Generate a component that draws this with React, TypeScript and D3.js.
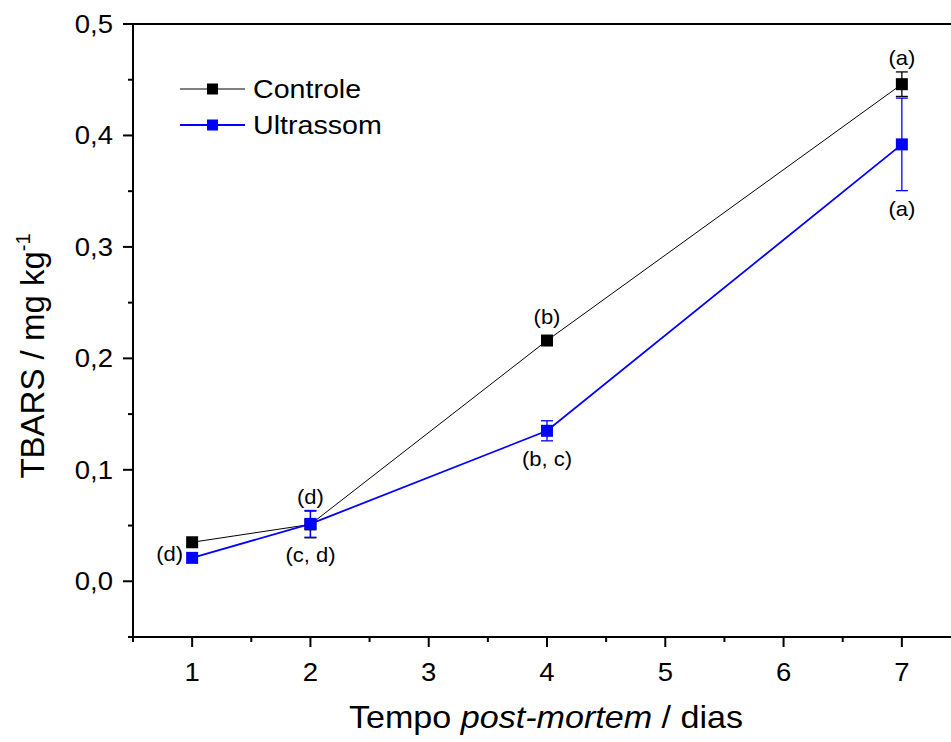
import React from "react";
import * as d3 from "d3";

// data
const days = [1, 2, 4, 7];
const controle = [0.035, 0.051, 0.216, 0.446];
const controleErr = [0, 0.012, 0, 0.011];
const ultrassom = [0.021, 0.0515, 0.135, 0.392];
const ultrassomErr = [0, 0.012, 0.009, 0.0415];
const controleLetters = ["", "(d)", "(b)", "(a)"];
const ultrassomLetters = ["(d)", "(c, d)", "(b, c)", "(a)"];
const xTicks = [1, 2, 3, 4, 5, 6, 7];
const xMinor = [0.5, 1.5, 2.5, 3.5, 4.5, 5.5, 6.5, 7.5];
const yTicks = [0, 0.1, 0.2, 0.3, 0.4, 0.5];
const yMinor = [-0.05, 0.05, 0.15, 0.25, 0.35, 0.45];

const W = 951;
const H = 742;
const FONT = "'Liberation Sans', Arial, sans-serif";
const SX = 1.1; // text looks a bit wide in the source

const fmt = (v: number) => d3.format(".1f")(v).replace(".", ",");

const Txt = ({ x, y, size, anchor = "middle", children, fill = "#000" }: any) => (
  <g transform={`translate(${x},${y}) scale(${SX},1)`}>
    <text fontSize={size} textAnchor={anchor} fill={fill} fontFamily={FONT}>
      {children}
    </text>
  </g>
);

export default function App() {
  const x = d3.scaleLinear().domain([0.5, 7.5]).range([133, 961]);
  const y = d3.scaleLinear().domain([-0.05, 0.5]).range([637, 24]);
  const line = d3
    .line<number>()
    .x((_, i) => x(days[i]))
    .y((d) => y(d));

  const series = [
    { name: "Controle", vals: controle, err: controleErr, color: "#000", lw: 1 },
    { name: "Ultrassom", vals: ultrassom, err: ultrassomErr, color: "#0000ff", lw: 1.8 },
  ];
  const ms = 12;

  return (
    <svg width={W} height={H} style={{ position: "absolute", left: 0, top: 0, background: "#fff" }}>
      {/* lines */}
      {series.map((s) => (
        <path key={s.name} d={line(s.vals) || ""} fill="none" stroke={s.color} strokeWidth={s.lw} />
      ))}
      {/* error bars */}
      {series.map((s) =>
        s.vals.map((v, i) =>
          s.err[i] > 0 ? (
            <g key={s.name + i} stroke={s.color} strokeWidth={1.3}>
              <line x1={x(days[i])} x2={x(days[i])} y1={y(v - s.err[i])} y2={y(v + s.err[i])} />
              <line x1={x(days[i]) - 6} x2={x(days[i]) + 6} y1={y(v - s.err[i])} y2={y(v - s.err[i])} />
              <line x1={x(days[i]) - 6} x2={x(days[i]) + 6} y1={y(v + s.err[i])} y2={y(v + s.err[i])} />
            </g>
          ) : null
        )
      )}
      {/* markers */}
      {series.map((s) =>
        s.vals.map((v, i) => (
          <rect
            key={s.name + "m" + i}
            x={x(days[i]) - ms / 2}
            y={y(v) - ms / 2}
            width={ms}
            height={ms}
            fill={s.color}
          />
        ))
      )}
      {/* letters */}
      {controleLetters.map((t, i) =>
        t ? (
          <Txt key={"cl" + i} x={x(days[i])} y={Math.min(y(controle[i]) - 17, y(controle[i] + controleErr[i]) - 7)} size={20}>
            {t}
          </Txt>
        ) : null
      )}
      {ultrassomLetters.map((t, i) =>
        i === 0 ? (
          <Txt key={"ul" + i} x={x(days[i]) - 9} y={y(ultrassom[i]) + 3} size={20} anchor="end">
            {t}
          </Txt>
        ) : (
          <Txt key={"ul" + i} x={x(days[i])} y={y(ultrassom[i] - ultrassomErr[i]) + 25} size={20}>
            {t}
          </Txt>
        )
      )}

      {/* axes */}
      <g stroke="#000" strokeWidth={2}>
        <line x1={x(0.5)} x2={W} y1={y(0.5)} y2={y(0.5)} />
        <line x1={x(0.5)} x2={x(0.5)} y1={y(-0.05) + 1} y2={y(0.5) - 1} />
        <line x1={x(0.5) - 1} x2={W} y1={y(-0.05)} y2={y(-0.05)} />
        {xTicks.map((t) => (
          <line key={"xt" + t} x1={x(t)} x2={x(t)} y1={y(-0.05)} y2={y(-0.05) + 10} />
        ))}
        {xMinor.map((t) => (
          <line key={"xm" + t} x1={x(t)} x2={x(t)} y1={y(-0.05)} y2={y(-0.05) + 5} />
        ))}
        {yTicks.map((t) => (
          <line key={"yt" + t} x1={x(0.5) - 10} x2={x(0.5)} y1={y(t)} y2={y(t)} />
        ))}
        {yMinor.map((t) => (
          <line key={"ym" + t} x1={x(0.5) - 5} x2={x(0.5)} y1={y(t)} y2={y(t)} />
        ))}
      </g>
      {xTicks.map((t) => (
        <Txt key={"xl" + t} x={x(t)} y={y(-0.05) + 44} size={25}>
          {String(t)}
        </Txt>
      ))}
      {yTicks.map((t) => (
        <Txt key={"yl" + t} x={x(0.5) - 20} y={y(t) + 9} size={25} anchor="end">
          {fmt(t)}
        </Txt>
      ))}

      {/* axis titles */}
      <Txt x={546} y={728} size={31}>
        Tempo <tspan fontStyle="italic">post-mortem</tspan> / dias
      </Txt>
      <g transform={`translate(44,356) rotate(-90)`}>
        <text fontSize={33} textAnchor="middle" fontFamily={FONT}>
          TBARS / mg kg
          <tspan fontSize={20} dy={-14}>-1</tspan>
        </text>
      </g>

      {/* legend */}
      {series.map((s, i) => (
        <g key={"lg" + s.name} transform={`translate(180,${89 + i * 36})`}>
          <line x1={0} x2={65} y1={0} y2={0} stroke={s.color} strokeWidth={s.lw} />
          <rect x={32.5 - 5.5} y={-5.5} width={11} height={11} fill={s.color} />
          <Txt x={73} y={9} size={26} anchor="start">
            {s.name}
          </Txt>
        </g>
      ))}
    </svg>
  );
}
